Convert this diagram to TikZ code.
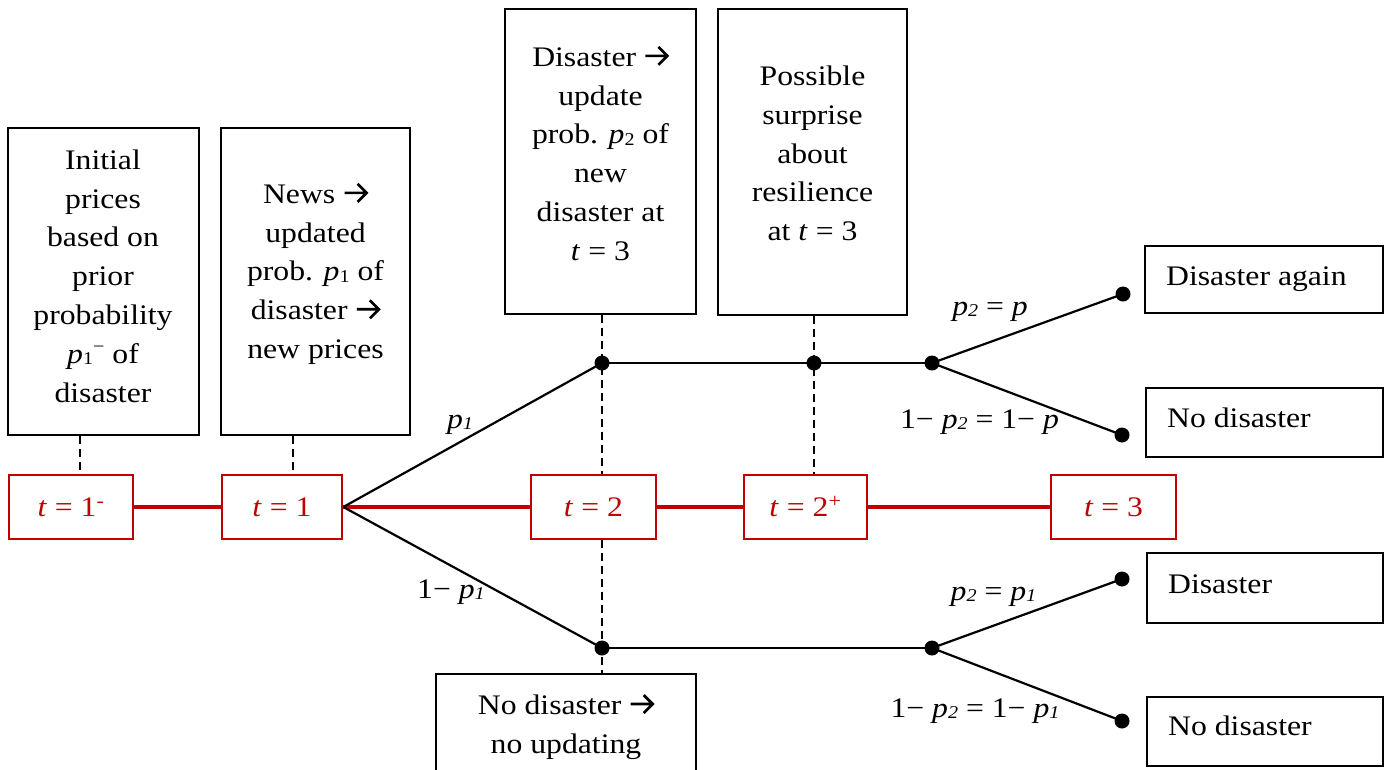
\documentclass[tikz,border=0pt]{standalone}
\usepackage{fontspec}
\setmainfont{Liberation Serif}[FakeStretch=1.12]
\usetikzlibrary{calc}
\definecolor{dred}{RGB}{192,0,0}
\newcommand\sbs[1]{\raisebox{-0.06em}{\fontsize{18}{18}\selectfont #1}}
\newcommand\sps[1]{\raisebox{0.38em}{\fontsize{18}{18}\selectfont #1}}
\newcommand\rarr{\begin{pgfpicture}\pgfsetlinewidth{2.7pt}\pgfsetmiterjoin
  \pgfpathmoveto{\pgfpoint{0pt}{9.5pt}}\pgfpathlineto{\pgfpoint{21pt}{9.5pt}}
  \pgfpathmoveto{\pgfpoint{13pt}{18.5pt}}\pgfpathlineto{\pgfpoint{22pt}{9.5pt}}\pgfpathlineto{\pgfpoint{13pt}{0.5pt}}
  \pgfusepath{stroke}\end{pgfpicture}}
\tikzset{
  box/.style={draw, line width=2.2pt, inner sep=0pt},
  tbox/.style={draw=dred, line width=2.6pt, text=dred, minimum height=64, inner sep=0pt},
  txt/.style={align=center, inner sep=0pt},
  lbl/.style={anchor=base, inner sep=0pt},
  dot/.style={circle, fill, inner sep=0pt, minimum size=15},
  dashline/.style={line width=2.2pt, dash pattern=on 8pt off 5pt},
  tline/.style={dred, line width=3.6pt},
  conn/.style={line width=2.2pt},
}
\begin{document}
\begin{tikzpicture}[x=1pt,y=-1pt,font=\fontsize{28.3}{38.8}\selectfont]
\useasboundingbox (0,0) rectangle (1393,769);
\clip (0,0) rectangle (1393,769);
% tall boxes
\node[box, minimum width=191, minimum height=307] (A) at (103.5,281.5) {};
\node[box, minimum width=189, minimum height=307] (B) at (315.5,281.5) {};
\node[box, minimum width=191, minimum height=305] (C) at (600.5,161.5) {};
\node[box, minimum width=189, minimum height=306] (D) at (812.5,162) {};
\node[box, minimum width=260, minimum height=126] (E) at (566,737) {};
\node[txt] (At) at (103,276) {Initial\\prices\\based on\\prior\\probability\\\textit{p}\sbs{1}\sps{−} of\\disaster};
\node[txt] (Bt) at (315.5,273.5) {News \rarr\\updated\\prob. \textit{p}\sbs{1} of\\disaster \rarr\\new prices};
\node[txt] (Ct) at (600.5,153) {Disaster \rarr\\update\\prob. \textit{p}\sbs{2} of\\new\\disaster at\\\textit{t} = 3};
\node[txt] (Dt) at (812.5,153.5) {Possible\\surprise\\about\\resilience\\at \textit{t} = 3};
\node[txt] (Et) at (566,726.5) {No disaster \rarr\\no updating};
% outcome boxes
\node[box, minimum width=238, minimum height=67] (R1) at (1264,279.5) {};
\node[box, minimum width=237, minimum height=69] (R2) at (1264.5,422.5) {};
\node[box, minimum width=236, minimum height=70] (R3) at (1265,588) {};
\node[box, minimum width=236, minimum height=69] (R4) at (1265,731.5) {};
\node[lbl, anchor=base west] (R1t) at (1166,285) {Disaster again};
\node[lbl, anchor=base west] (R2t) at (1167,427) {No disaster};
\node[lbl, anchor=base west] (R3t) at (1168,593) {Disaster};
\node[lbl, anchor=base west] (R4t) at (1168,735) {No disaster};
% timeline boxes
\node[tbox, minimum width=124] (t1m) at (71,507) {\textit{t} = 1\textsuperscript{-}};
\node[tbox, minimum width=120] (t1) at (282,507) {\textit{t} = 1};
\node[tbox, minimum width=125] (t2) at (593.5,507) {\textit{t} = 2};
\node[tbox, minimum width=123] (t2p) at (805.5,507) {\textit{t} = 2\textsuperscript{+}};
\node[tbox, minimum width=125] (t3) at (1113.5,507) {\textit{t} = 3};
% dots
\node[dot] (u2) at (602,363) {};
\node[dot] (u3) at (814,363) {};
\node[dot] (u4) at (932,363) {};
\node[dot] (e1) at (1123,294) {};
\node[dot] (e2) at (1122,435) {};
\node[dot] (l2) at (602,648) {};
\node[dot] (l4) at (932,648) {};
\node[dot] (e3) at (1122,579) {};
\node[dot] (e4) at (1122,721) {};
% timeline
\draw[tline] (t1m) -- (t1);
\draw[tline] (t1) -- (t2);
\draw[tline] (t2) -- (t2p);
\draw[tline] (t2p) -- (t3);
% branches
\draw[conn] (t1.east) -- (u2.center);
\draw[conn] (t1.east) -- (l2.center);
\draw[conn] (u2.center) -- (u3.center) -- (u4.center);
\draw[conn] (u4.center) -- (e1.center);
\draw[conn] (u4.center) -- (e2.center);
\draw[conn] (l2.center) -- (l4.center);
\draw[conn] (l4.center) -- (e3.center);
\draw[conn] (l4.center) -- (e4.center);
% dashed links
\coordinate (a1) at ($(A.south)+(-23.5,0)$);
\coordinate (b1) at ($(B.south)+(-22.5,0)$);
\draw[dashline] (a1) -- (a1 |- t1m.north);
\draw[dashline] (b1) -- (b1 |- t1.north);
\draw[dashline] (C.south -| u2) -- (t2.north -| u2);
\draw[dashline] (D.south -| u3) -- (t2p.north -| u3);
\draw[dashline] (t2.south -| l2) -- (E.north -| l2);
% labels
\node[lbl] (L1) at (460,428) {\textit{p\sbs{1}}};
\node[lbl] (L2) at (451,598) {1− \textit{p\sbs{1}}};
\node[lbl] (L3) at (990,315) {\textit{p\sbs{2}} = \textit{p}};
\node[lbl] (L4) at (979.5,428) {1− \textit{p\sbs{2}} = 1− \textit{p}};
\node[lbl] (L5) at (993.5,600) {\textit{p\sbs{2}} = \textit{p\sbs{1}}};
\node[lbl] (L6) at (975,717) {1− \textit{p\sbs{2}} = 1− \textit{p\sbs{1}}};
\end{tikzpicture}
\end{document}
